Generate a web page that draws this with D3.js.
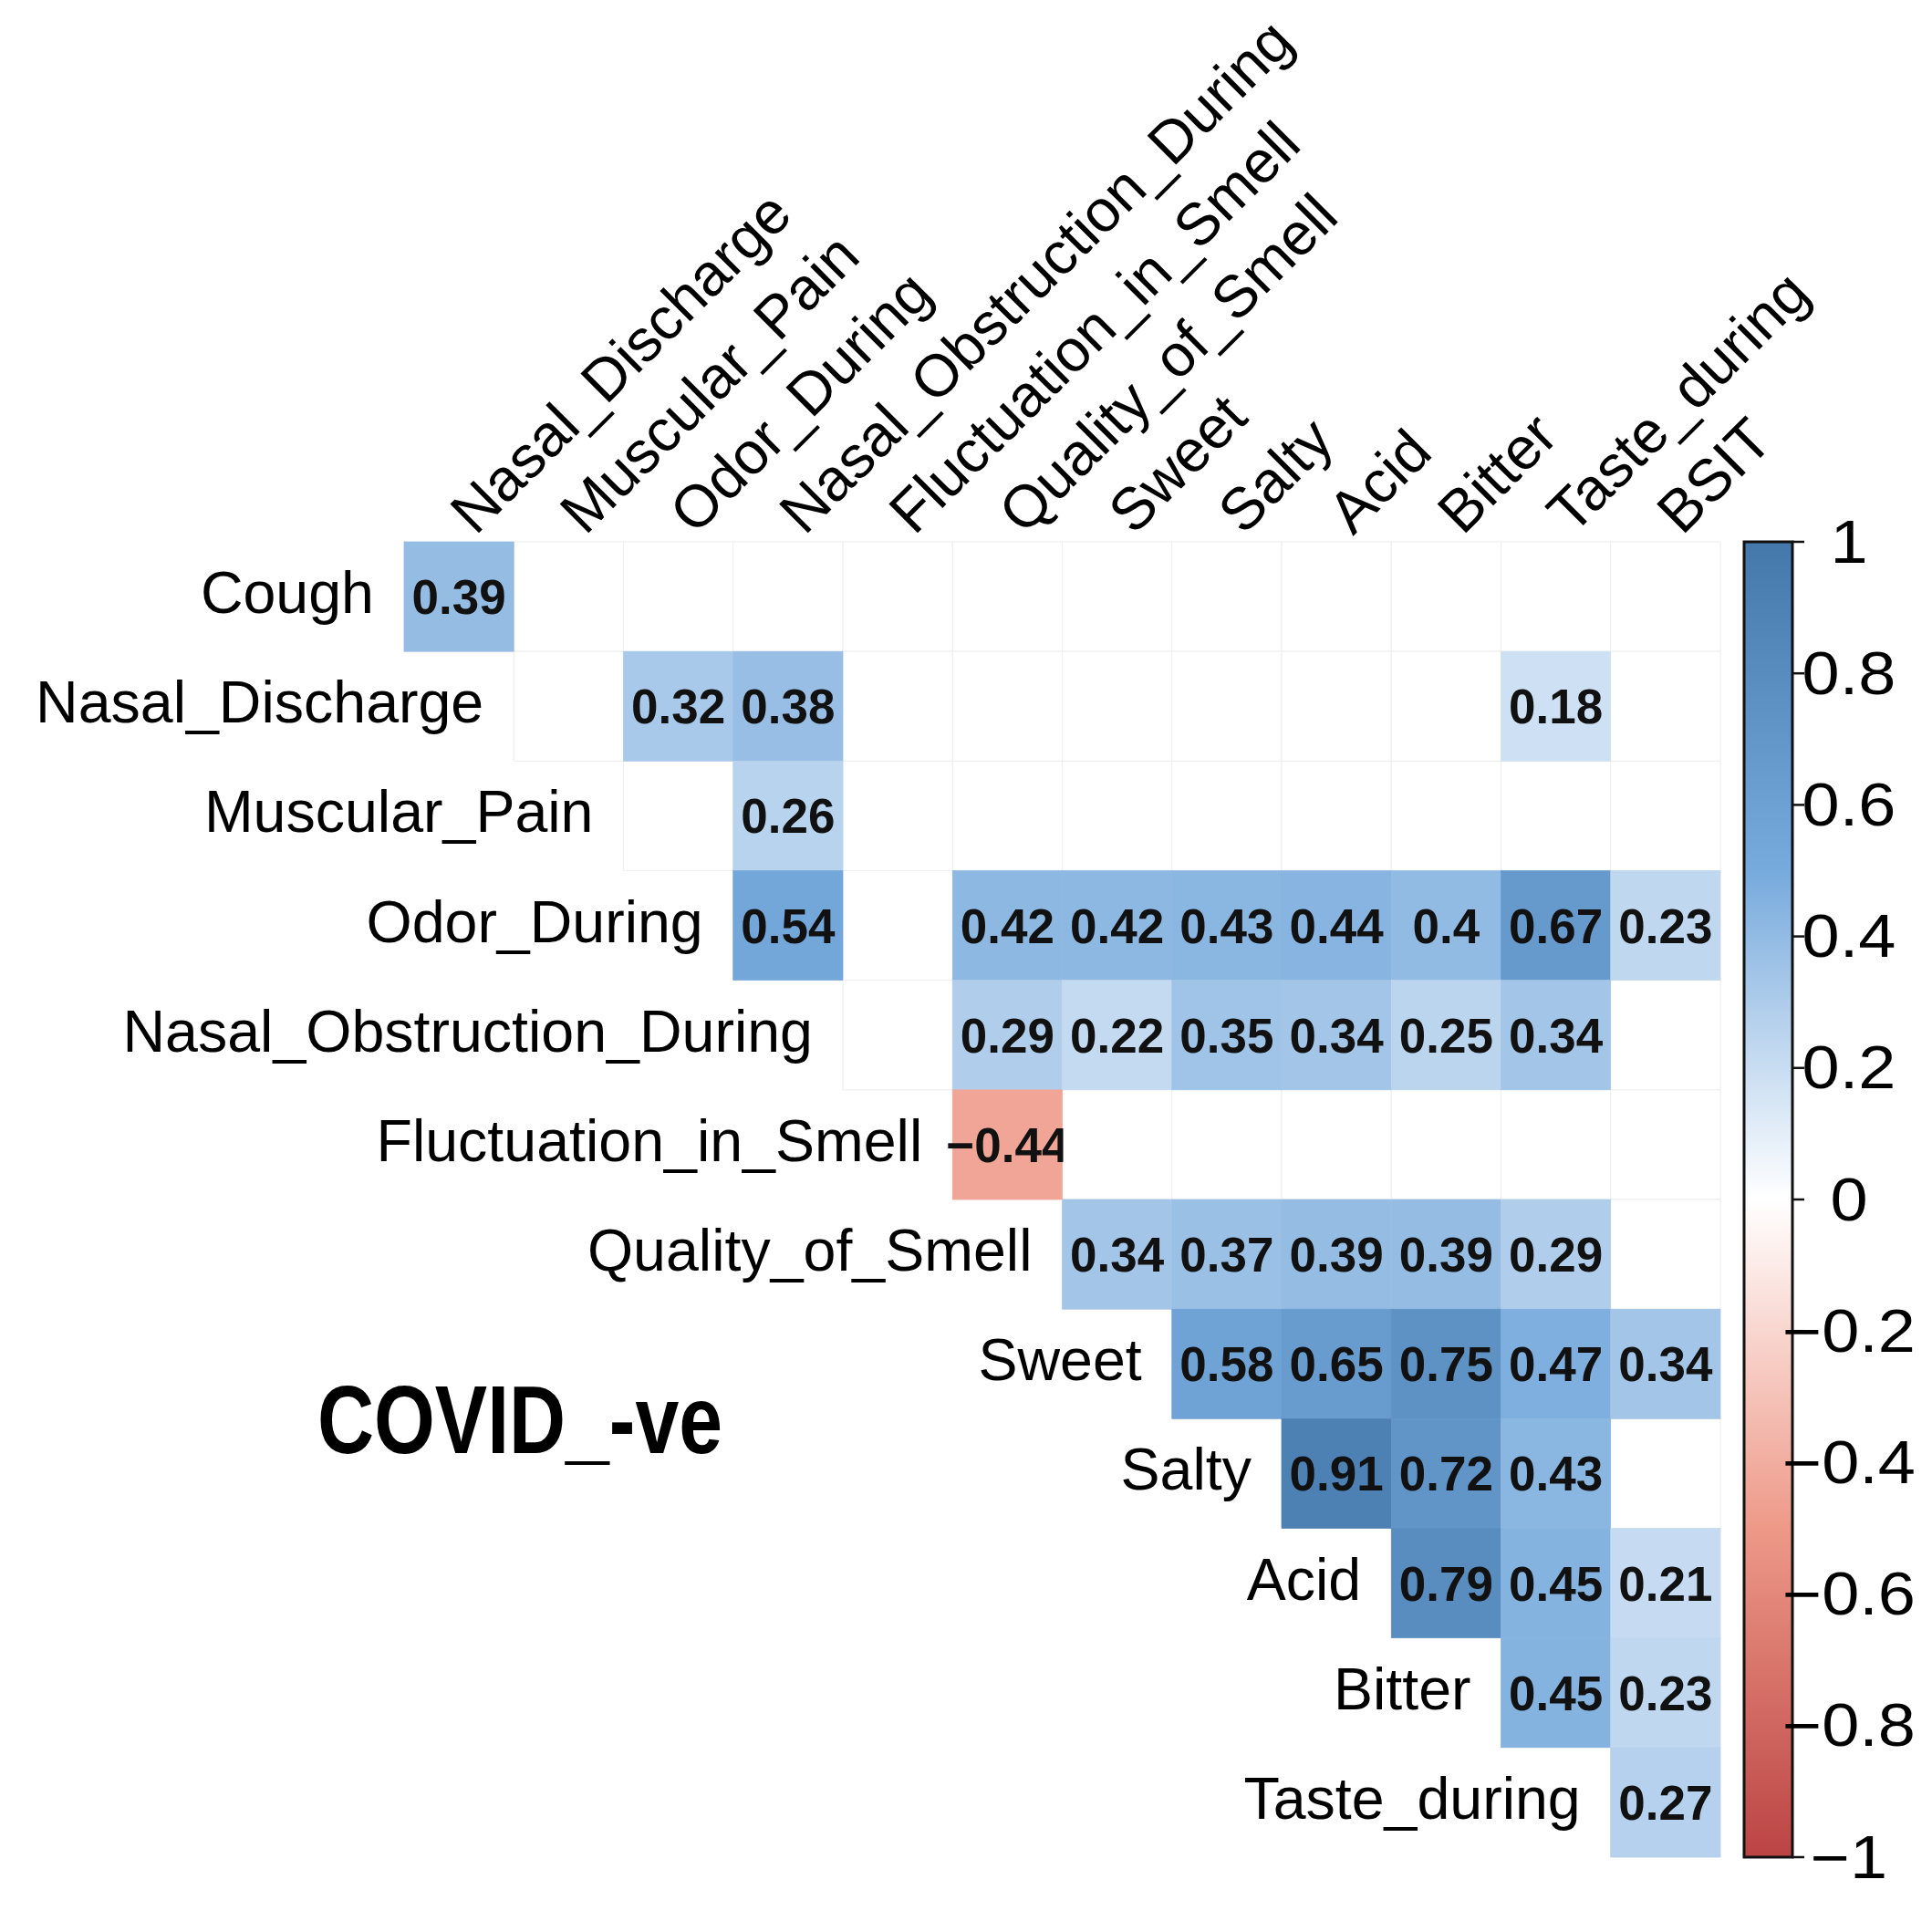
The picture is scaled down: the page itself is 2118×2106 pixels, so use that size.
<!DOCTYPE html>
<html>
<head>
<meta charset="utf-8">
<script src="https://cdn.jsdelivr.net/npm/d3@7"></script>
<style>
  html, body { margin: 0; padding: 0; background: #ffffff; }
  svg { display: block; }
</style>
</head>
<body>
<svg id="chart" width="2118" height="2106"></svg>
<script>
// ---------------- DATA ----------------
const rowLabels = ["Cough", "Nasal_Discharge", "Muscular_Pain", "Odor_During",
  "Nasal_Obstruction_During", "Fluctuation_in_Smell", "Quality_of_Smell",
  "Sweet", "Salty", "Acid", "Bitter", "Taste_during"];

const colLabels = ["Nasal_Discharge", "Muscular_Pain", "Odor_During",
  "Nasal_Obstruction_During", "Fluctuation_in_Smell", "Quality_of_Smell",
  "Sweet", "Salty", "Acid", "Bitter", "Taste_during", "BSIT"];

// Each row i holds the columns i .. 11 (upper triangle); null = blank (not significant)
const rowCough        = [0.39, null, null, null, null, null, null, null, null, null, null, null];
const rowNasalDisch   = [null, 0.32, 0.38, null, null, null, null, null, null, 0.18, null];
const rowMuscular     = [null, 0.26, null, null, null, null, null, null, null, null];
const rowOdor         = [0.54, null, 0.42, 0.42, 0.43, 0.44, 0.4, 0.67, 0.23];
const rowNasalObstr   = [null, 0.29, 0.22, 0.35, 0.34, 0.25, 0.34, null];
const rowFluctuation  = [-0.44, null, null, null, null, null, null];
const rowQuality      = [0.34, 0.37, 0.39, 0.39, 0.29, null];
const rowSweet        = [0.58, 0.65, 0.75, 0.47, 0.34];
const rowSalty        = [0.91, 0.72, 0.43, null];
const rowAcid         = [0.79, 0.45, 0.21];
const rowBitter       = [0.45, 0.23];
const rowTaste        = [0.27];
const rowValues = [rowCough, rowNasalDisch, rowMuscular, rowOdor, rowNasalObstr,
  rowFluctuation, rowQuality, rowSweet, rowSalty, rowAcid, rowBitter, rowTaste];

const legendTicks = [1, 0.8, 0.6, 0.4, 0.2, 0, -0.2, -0.4, -0.6, -0.8, -1];
const colorStops = ["#BB4444", "#EE9988", "#FFFFFF", "#77AADD", "#4477AA"];
const colorDomain = [-1, -0.5, 0, 0.5, 1];
const titleText = "COVID_-ve";

// ---------------- BUILD ----------------
const svg = d3.select("#chart");
svg.append("rect").attr("width", 2118).attr("height", 2106).attr("fill", "#ffffff");

const x = d3.scaleBand().domain(colLabels).range([443, 1886]).padding(0);
const y = d3.scaleBand().domain(rowLabels).range([594, 2036]).padding(0);
const color = d3.scaleLinear().domain(colorDomain).range(colorStops).interpolate(d3.interpolateRgb);

const cells = [];
rowValues.forEach((vals, i) => {
  vals.forEach((v, k) => {
    cells.push({ row: rowLabels[i], col: colLabels[i + k], v: v });
  });
});

const fmt = v => String(v).replace("-", "\u2212");
const labelFont = "'Liberation Sans', Arial, Helvetica, sans-serif";

// faint grid for all upper-triangle cells
svg.append("g").selectAll("rect").data(cells).join("rect")
  .attr("x", d => x(d.col)).attr("y", d => y(d.row))
  .attr("width", x.bandwidth()).attr("height", y.bandwidth())
  .attr("fill", "#ffffff").attr("stroke", "#efefef").attr("stroke-width", 1.2);

// coloured cells
const sig = cells.filter(d => d.v !== null);
svg.append("g").selectAll("rect").data(sig).join("rect")
  .attr("x", d => x(d.col)).attr("y", d => y(d.row))
  .attr("width", x.bandwidth()).attr("height", y.bandwidth())
  .attr("fill", d => color(d.v)).attr("stroke", d => color(d.v)).attr("stroke-width", 0.6);

// numbers
svg.append("g").selectAll("text").data(sig).join("text")
  .attr("x", d => x(d.col) + x.bandwidth() / 2)
  .attr("y", d => y(d.row) + y.bandwidth() / 2 + 19)
  .attr("text-anchor", "middle")
  .attr("font-family", labelFont).attr("font-weight", "bold")
  .attr("font-size", 53).attr("fill", "#111111")
  .text(d => fmt(d.v));

// blank (insignificant) cells cover overflow from neighbours
svg.append("g").selectAll("rect").data(cells.filter(d => d.v === null)).join("rect")
  .attr("x", d => x(d.col) + 1).attr("y", d => y(d.row) + 1)
  .attr("width", x.bandwidth() - 2).attr("height", y.bandwidth() - 2)
  .attr("fill", "#ffffff");

// row labels
svg.append("g").selectAll("text").data(rowLabels).join("text")
  .attr("x", (d, i) => x(colLabels[i]) - 33)
  .attr("y", d => y(d) + y.bandwidth() / 2 + 18)
  .attr("text-anchor", "end")
  .attr("font-family", labelFont).attr("font-size", 64.5).attr("fill", "#000000")
  .text(d => d);

// column labels, rotated 45 degrees
svg.append("g").selectAll("text").data(colLabels).join("text")
  .attr("transform", d => `translate(${x(d) + x.bandwidth() / 2 + 18},${588}) rotate(-45)`)
  .attr("text-anchor", "start")
  .attr("font-family", labelFont).attr("font-size", 65).attr("fill", "#000000")
  .text(d => d);

// colour legend
const lx0 = 1912, lx1 = 1965;
const ly = d3.scaleLinear().domain([-1, 1]).range([2036, 594]);
const defs = svg.append("defs");
const grad = defs.append("linearGradient").attr("id", "cbar")
  .attr("x1", 0).attr("y1", 1).attr("x2", 0).attr("y2", 0);
colorDomain.forEach((d, i) => {
  grad.append("stop").attr("offset", (d + 1) / 2).attr("stop-color", colorStops[i]);
});
svg.append("rect").attr("x", lx0).attr("y", ly(1)).attr("width", lx1 - lx0)
  .attr("height", ly(-1) - ly(1)).attr("fill", "url(#cbar)")
  .attr("stroke", "#111111").attr("stroke-width", 3);

const lg = svg.append("g");
lg.selectAll("line").data(legendTicks).join("line")
  .attr("x1", lx1).attr("x2", lx1 + 13)
  .attr("y1", d => ly(d)).attr("y2", d => ly(d))
  .attr("stroke", "#111111").attr("stroke-width", 2.5);
lg.selectAll("text").data(legendTicks).join("text")
  .attr("transform", d => `translate(2027,${ly(d)}) scale(1.12,1)`)
  .attr("text-anchor", "middle").attr("dominant-baseline", "central")
  .attr("font-family", labelFont).attr("font-size", 66).attr("fill", "#000000")
  .text(d => fmt(d));

// title
svg.append("text")
  .attr("x", 348).attr("y", 1593)
  .attr("font-family", "'Liberation Sans Narrow', 'Liberation Sans', Arial, sans-serif")
  .attr("font-weight", "bold").attr("font-size", 106)
  .attr("textLength", 444).attr("lengthAdjust", "spacingAndGlyphs")
  .attr("fill", "#000000")
  .text(titleText);
</script>
</body>
</html>
